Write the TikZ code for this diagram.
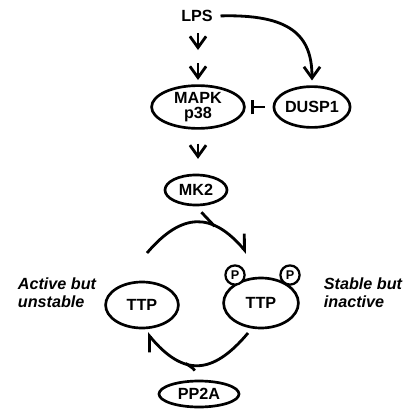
\documentclass[tikz,border=0pt]{standalone}
\usepackage{fontspec}
\setmainfont{Liberation Sans}
\usetikzlibrary{arrows.meta,shapes.geometric}

\tikzset{
  mol/.style={draw, ellipse, line width=1.9pt, inner sep=0pt, align=center,
    font=\fontsize{11.5}{11}\selectfont\bfseries},
  phos/.style={draw, circle, fill=white, line width=1.6pt, inner sep=0pt,
    minimum size=0.48cm, font=\fontsize{9}{9}\selectfont\bfseries},
  lab/.style={align=left, inner sep=0pt, font=\fontsize{11.5}{12.5}\selectfont\bfseries\itshape},
  act/.style={line width=2pt, -{Straight Barb[length=8pt,width=11.5pt,line width=2pt]}},
  conv/.style={line width=2pt, -{Straight Barb[left,length=9pt,width=15pt,line width=2pt]}},
  cat/.style={line width=2pt},
  inh/.style={line width=2pt, -{Bar[width=10.5pt,line width=2.2pt]}},
}

\begin{document}
\begin{tikzpicture}[x=0.025cm, y=-0.025cm]
  \useasboundingbox (0,0) rectangle (406,409);

  % species
  \node[font=\fontsize{11.5}{12}\selectfont\bfseries] (lps) at (197,16) {LPS};
  \node[mol, minimum width=2.32cm, minimum height=1.07cm] (mapk) at (198,107) {MAPK\\p38};
  \node[mol, minimum width=1.87cm, minimum height=1.02cm] (dusp1) at (312,107) {DUSP1};
  \node[mol, minimum width=1.55cm, minimum height=0.75cm] (mk2) at (196,190) {MK2};
  \node[mol, minimum width=1.82cm, minimum height=1.15cm] (ttp) at (142,305) {TTP};
  \node[mol, minimum width=1.87cm, minimum height=1.25cm] (ttpp) at (261,303) {TTP};
  \node[phos] (p1) at (235,275) {P};
  \node[phos] (p2) at (290,275) {P};
  \node[mol, minimum width=2.0cm, minimum height=0.65cm] (pp2a) at (199,394) {PP2A};

  \node[lab] (active) at (57,293) {Active but\\unstable};
  \node[lab] (stable) at (363,293) {Stable but\\inactive};

  % signalling from LPS
  \coordinate (s1) at (198,33);
  \coordinate (s2) at (198,50);
  \coordinate (s3) at (198,63);
  \coordinate (s4) at (198,80);
  \draw[act] (s1) -- (s2);
  \draw[act] (s3) -- (s4);
  \draw[act, shorten <=2pt, shorten >=0.12cm] (lps.east) .. controls (290,14) and (312,35) .. (dusp1.north);
  \draw[inh, shorten <=0.2cm, shorten >=0.12cm] (dusp1.west) -- (mapk.east);
  \draw[act, shorten <=0.35cm, shorten >=0.37cm] (mapk.south) -- (mapk.south |- mk2.north);

  % TTP cycle
  \coordinate (c1) at (147,253);
  \coordinate (c2) at (247,253);
  \coordinate (c3) at (248,333);
  \coordinate (c4) at (147,333);
  \draw[conv] (c1) .. controls (182,212) and (212,212) .. (c2) coordinate[pos=0.68] (ktop);
  \draw[conv] (c3) .. controls (212,376) and (183,376) .. (c4) coordinate[pos=0.62] (kbot);
  \draw[cat, shorten <=0.2cm] (mk2.south) .. controls (204,215) .. (ktop);
  \draw[cat, shorten <=0.25cm] (pp2a.north) .. controls (194,369) .. (kbot);
\end{tikzpicture}
\end{document}
